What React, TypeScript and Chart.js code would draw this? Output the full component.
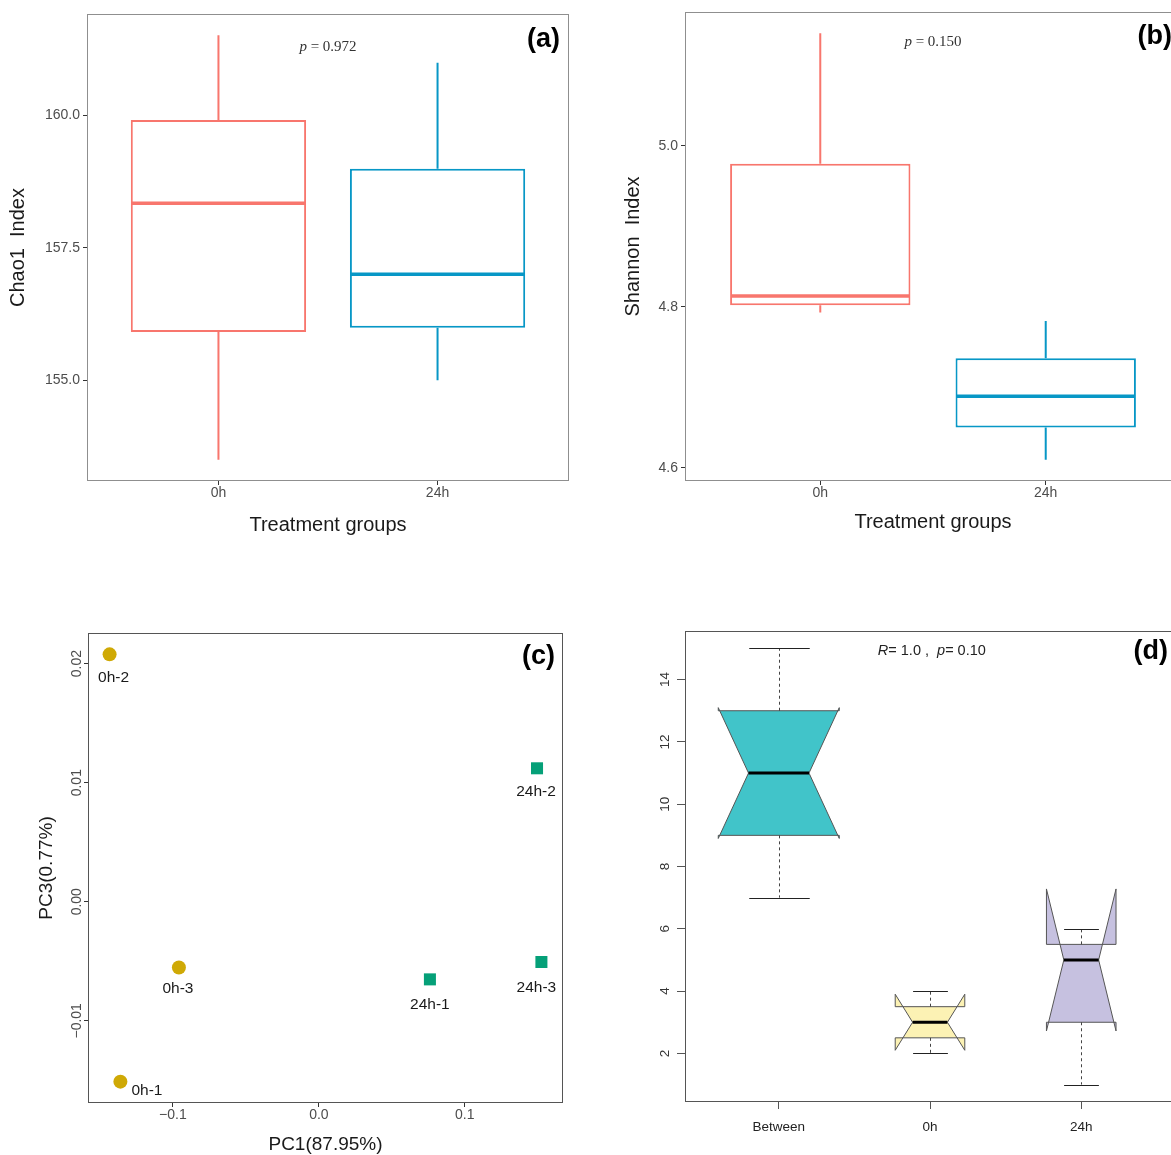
import React, { useEffect, useRef } from "react";
import { Chart, registerables } from "chart.js";

Chart.register(...registerables);

const SANS = "'Liberation Sans', Arial, Helvetica, sans-serif";
const SERIF = "'Liberation Serif', 'Times New Roman', serif";
Chart.defaults.font.family = SANS;

// ---------------- data ----------------
const treatmentGroups = ["0h", "24h"];

// (a) Chao1
const chaoLow = [153.5, 155.0];
const chaoQ1 = [155.91, 155.99];
const chaoMedian = [158.34, 157.0];
const chaoQ3 = [159.91, 158.99];
const chaoHigh = [161.51, 160.99];
const chaoTicks = [155.0, 157.5, 160.0];
const chaoP = "0.972";

// (b) Shannon
const shannonLow = [4.793, 4.61];
const shannonQ1 = [4.802, 4.65];
const shannonMedian = [4.8135, 4.689];
const shannonQ3 = [4.978, 4.736];
const shannonHigh = [5.14, 4.7825];
const shannonTicks = [4.6, 4.8, 5.0];
const shannonP = "0.150";

// (c) PCA
const pcaSamples = ["0h-1", "0h-2", "0h-3", "24h-1", "24h-2", "24h-3"];
const pcaGroup = ["0h", "0h", "0h", "24h", "24h", "24h"];
const pc1 = [-0.136, -0.1434, -0.0959, 0.0761, 0.1495, 0.1525];
const pc3 = [-0.01511, 0.02078, -0.00552, -0.00652, 0.01121, -0.00506];
const pc1Ticks = [-0.1, 0.0, 0.1];
const pc3Ticks = [-0.01, 0.0, 0.01, 0.02];

// (d) ANOSIM
const anosimGroups = ["Between", "0h", "24h"];
const anosimLow = [7, 2, 1];
const anosimQ1 = [9, 2.5, 3];
const anosimMedian = [11, 3, 5];
const anosimQ3 = [13, 3.5, 5.5];
const anosimHigh = [15, 4, 6];
const anosimNotchLow = [8.9, 2.1, 2.72];
const anosimNotchHigh = [13.1, 3.9, 7.28];
const anosimTicks = [2, 4, 6, 8, 10, 12, 14];
const anosimR = "1.0";
const anosimP = "0.10";

// ---------------- styles ----------------
const groupColors = ["#F8766D", "#0797C6"];
const pcaColors: Record<string, string> = { "0h": "#CFA905", "24h": "#05A078" };
const pcaLabelStyle = [
  { dx: 11, dy: 9, align: "left" },
  { dx: 4, dy: 23, align: "center" },
  { dx: -1, dy: 21, align: "center" },
  { dx: 0, dy: 25, align: "center" },
  { dx: -1, dy: 23, align: "center" },
  { dx: -5, dy: 26, align: "center" },
];
const anosimFill = ["#41C4C9", "#FCF2B4", "#C6C1E0"];
const anosimBoxWidth = [0.8, 0.46, 0.46];

const expand = (lo: number[], hi: number[], f: number) => {
  const a = Math.min(...lo);
  const b = Math.max(...hi);
  const r = b - a;
  return [a - f * r, b + f * r];
};
const minus = (s: string) => s.replace("-", "\u2212");

function drawRuns(ctx: CanvasRenderingContext2D, runs: { text: string; font: string }[], x: number, y: number, align: "center" | "left") {
  let total = 0;
  runs.forEach((r) => {
    ctx.font = r.font;
    total += ctx.measureText(r.text).width;
  });
  let cx = align === "center" ? x - total / 2 : x;
  ctx.textAlign = "left";
  ctx.textBaseline = "middle";
  runs.forEach((r) => {
    ctx.font = r.font;
    ctx.fillText(r.text, cx, y);
    cx += ctx.measureText(r.text).width;
  });
}

function decorPlugin(opts: { border: string; tag: string; tagRight: number; tagTop: number; note?: (chart: any) => void }) {
  return {
    id: "decor",
    afterDraw(chart: any) {
      const { ctx, chartArea: a } = chart;
      ctx.save();
      ctx.strokeStyle = opts.border;
      ctx.lineWidth = 1;
      ctx.strokeRect(Math.round(a.left) + 0.5, Math.round(a.top) + 0.5, Math.round(a.right - a.left) - 1, Math.round(a.bottom - a.top) - 1);
      ctx.fillStyle = "#000";
      ctx.font = `bold 27px ${SANS}`;
      ctx.textAlign = "right";
      ctx.textBaseline = "middle";
      ctx.fillText(opts.tag, a.right - opts.tagRight, a.top + opts.tagTop);
      if (opts.note) opts.note(chart);
      ctx.restore();
    },
  };
}

function rotatedYLabels(format: (v: number) => string, offset: number, font: string, color: string) {
  return {
    id: "rotY",
    afterDraw(chart: any) {
      const y = chart.scales.y;
      const ctx = chart.ctx;
      ctx.save();
      ctx.font = font;
      ctx.fillStyle = color;
      ctx.textAlign = "center";
      ctx.textBaseline = "middle";
      y.ticks.forEach((t: any) => {
        const py = y.getPixelForValue(t.value);
        ctx.save();
        ctx.translate(chart.chartArea.left - offset, py);
        ctx.rotate(-Math.PI / 2);
        ctx.fillText(format(t.value), 0, 0);
        ctx.restore();
      });
      ctx.restore();
    },
  };
}

function ggBoxPlugin(low: number[], q1: number[], med: number[], q3: number[], high: number[]) {
  return {
    id: "ggbox",
    afterDatasetsDraw(chart: any) {
      const { ctx, scales } = chart;
      const { x, y } = scales;
      const meta = chart.getDatasetMeta(0);
      ctx.save();
      meta.data.forEach((bar: any, i: number) => {
        const cx = x.getPixelForValue(i + 1);
        const half = bar.width / 2;
        ctx.strokeStyle = groupColors[i];
        ctx.lineWidth = 2;
        ctx.beginPath();
        ctx.moveTo(cx, y.getPixelForValue(q3[i]));
        ctx.lineTo(cx, y.getPixelForValue(high[i]));
        ctx.moveTo(cx, y.getPixelForValue(q1[i]));
        ctx.lineTo(cx, y.getPixelForValue(low[i]));
        ctx.stroke();
        ctx.lineWidth = 3.5;
        ctx.beginPath();
        ctx.moveTo(cx - half + 1, y.getPixelForValue(med[i]));
        ctx.lineTo(cx + half - 1, y.getPixelForValue(med[i]));
        ctx.stroke();
      });
      ctx.restore();
    },
  };
}

function ggBoxConfig(o: {
  low: number[]; q1: number[]; med: number[]; q3: number[]; high: number[];
  ticks: number[]; yTitle: string; yTitlePad: number; xTitlePad: number;
  yAxisW: number; padTop: number; padRight: number; xAxisH: number;
  tag: string; tagTop: number; pText: string; pY: number;
}) {
  const [yMin, yMax] = expand(o.low, o.high, 0.05);
  return {
    type: "bar",
    data: {
      datasets: [
        {
          data: treatmentGroups.map((_, i) => ({ x: i + 1, y: [o.q1[i], o.q3[i]] })),
          backgroundColor: "#ffffff",
          borderColor: groupColors,
          borderWidth: 2,
          borderSkipped: false,
          barPercentage: 0.8,
          categoryPercentage: 1,
        },
      ],
    },
    options: {
      responsive: false,
      animation: false,
      layout: { padding: { top: o.padTop, right: o.padRight, left: 0, bottom: 0 } },
      plugins: { legend: { display: false }, tooltip: { enabled: false } },
      scales: {
        x: {
          type: "linear",
          min: 0.4,
          max: 2.6,
          offset: false,
          afterBuildTicks: (s: any) => { s.ticks = treatmentGroups.map((_, i) => ({ value: i + 1 })); },
          afterFit: (s: any) => { s.height = o.xAxisH; },
          ticks: {
            callback: (v: any) => treatmentGroups[Math.round(v) - 1] ?? "",
            font: { size: 14, family: SANS },
            color: "#4d4d4d",
            padding: 0,
            maxRotation: 0,
            autoSkip: false,
          },
          grid: { display: true, offset: false, drawOnChartArea: false, drawTicks: true, tickLength: 4, tickColor: "#333", lineWidth: 1 },
          border: { display: false },
          title: { display: true, text: "Treatment groups", font: { size: 20, family: SANS }, color: "#1a1a1a", padding: { top: 0, bottom: o.xTitlePad } },
        },
        y: {
          type: "linear",
          min: yMin,
          max: yMax,
          afterBuildTicks: (s: any) => { s.ticks = o.ticks.map((v) => ({ value: v })); },
          afterFit: (s: any) => { s.width = o.yAxisW; },
          ticks: {
            callback: (v: any) => Number(v).toFixed(1),
            font: { size: 14, family: SANS },
            color: "#4d4d4d",
            padding: 3,
          },
          grid: { display: true, drawOnChartArea: false, drawTicks: true, tickLength: 4, tickColor: "#333", lineWidth: 1 },
          border: { display: false },
          title: { display: true, text: o.yTitle, font: { size: 20, family: SANS }, color: "#1a1a1a", padding: { top: o.yTitlePad, bottom: 0 } },
        },
      },
    },
    plugins: [
      ggBoxPlugin(o.low, o.q1, o.med, o.q3, o.high),
      decorPlugin({
        border: "#8f8f8f",
        tag: o.tag,
        tagRight: 9,
        tagTop: o.tagTop,
        note: (chart: any) => {
          const { ctx, scales } = chart;
          ctx.fillStyle = "#333";
          drawRuns(
            ctx,
            [
              { text: "p", font: `italic 15px ${SERIF}` },
              { text: ` = ${o.pText}`, font: `15px ${SERIF}` },
            ],
            scales.x.getPixelForValue(1.5),
            scales.y.getPixelForValue(o.pY),
            "center"
          );
        },
      }),
    ],
  };
}

const makeChao = () =>
  ggBoxConfig({
    low: chaoLow, q1: chaoQ1, med: chaoMedian, q3: chaoQ3, high: chaoHigh,
    ticks: chaoTicks, yTitle: "Chao1  Index", yTitlePad: 6, xTitlePad: 13,
    yAxisW: 87, padTop: 14, padRight: 21, xAxisH: 69,
    tag: "(a)", tagTop: 26, pText: chaoP, pY: 161.29,
  });

const makeShannon = () =>
  ggBoxConfig({
    low: shannonLow, q1: shannonQ1, med: shannonMedian, q3: shannonQ3, high: shannonHigh,
    ticks: shannonTicks, yTitle: "Shannon  Index", yTitlePad: 21, xTitlePad: 16,
    yAxisW: 85, padTop: 12, padRight: 19, xAxisH: 69,
    tag: "(b)", tagTop: 25, pText: shannonP, pY: 5.129,
  });

const makePca = () => {
  const [xMin, xMax] = expand(pc1, pc1, 0.05);
  const [yMin, yMax] = expand(pc3, pc3, 0.05);
  const groups = ["0h", "24h"];
  return {
    type: "scatter",
    data: {
      datasets: groups.map((g) => ({
        label: g,
        data: pcaSamples.map((_, i) => i).filter((i) => pcaGroup[i] === g).map((i) => ({ x: pc1[i], y: pc3[i] })),
        pointStyle: g === "0h" ? "circle" : "rect",
        pointRadius: g === "0h" ? 7 : 8.5,
        backgroundColor: pcaColors[g],
        borderWidth: 0,
      })),
    },
    options: {
      responsive: false,
      animation: false,
      layout: { padding: { top: 33, right: 27, left: 0, bottom: 0 } },
      plugins: { legend: { display: false }, tooltip: { enabled: false } },
      scales: {
        x: {
          type: "linear",
          min: xMin,
          max: xMax,
          afterBuildTicks: (s: any) => { s.ticks = pc1Ticks.map((v) => ({ value: v })); },
          afterFit: (s: any) => { s.height = 72; },
          ticks: {
            callback: (v: any) => minus(Number(v).toFixed(1)),
            font: { size: 14, family: SANS },
            color: "#4d4d4d",
            padding: 0,
            maxRotation: 0,
            autoSkip: false,
          },
          grid: { display: true, drawOnChartArea: false, drawTicks: true, tickLength: 4, tickColor: "#333" },
          border: { display: false },
          title: { display: true, text: "PC1(87.95%)", font: { size: 19, family: SANS }, color: "#1a1a1a", padding: { top: 0, bottom: 18.6 } },
        },
        y: {
          type: "linear",
          min: yMin,
          max: yMax,
          afterBuildTicks: (s: any) => { s.ticks = pc3Ticks.map((v) => ({ value: v })); },
          afterFit: (s: any) => { s.width = 88; },
          ticks: { display: false },
          grid: { display: true, drawOnChartArea: false, drawTicks: true, tickLength: 4, tickColor: "#333" },
          border: { display: false },
          title: { display: true, text: "PC3(0.77%)", font: { size: 19, family: SANS }, color: "#1a1a1a", padding: { top: 35.6, bottom: 0 } },
        },
      },
    },
    plugins: [
      rotatedYLabels((v) => minus(v.toFixed(2)), 11, `14px ${SANS}`, "#4d4d4d"),
      {
        id: "pcaLabels",
        afterDatasetsDraw(chart: any) {
          const { ctx, scales } = chart;
          ctx.save();
          ctx.font = `15.5px ${SANS}`;
          ctx.fillStyle = "#1a1a1a";
          ctx.textBaseline = "middle";
          pcaSamples.forEach((s, i) => {
            const st = pcaLabelStyle[i];
            ctx.textAlign = st.align as CanvasTextAlign;
            ctx.fillText(s, scales.x.getPixelForValue(pc1[i]) + st.dx, scales.y.getPixelForValue(pc3[i]) + st.dy);
          });
          ctx.restore();
        },
      },
      decorPlugin({ border: "#555", tag: "(c)", tagRight: 8, tagTop: 24 }),
    ],
  };
};

const makeAnosim = () => {
  const [yMin, yMax] = expand(anosimLow, anosimHigh, 0.04);
  const halfPx = (chart: any, i: number) =>
    chart.scales.x.getPixelForValue(i + 1 + anosimBoxWidth[i] / 2) - chart.scales.x.getPixelForValue(i + 1);
  return {
    type: "scatter",
    data: {
      datasets: [
        {
          data: anosimMedian.map((m, i) => ({ x: i + 1, y: m })),
          pointStyle: "line",
          pointRadius: (c: any) => halfPx(c.chart, c.dataIndex) / 2,
          borderColor: "#000",
          borderWidth: 3,
          backgroundColor: "#000",
        },
      ],
    },
    options: {
      responsive: false,
      animation: false,
      layout: { padding: { top: 31, right: 25, left: 0, bottom: 0 } },
      plugins: { legend: { display: false }, tooltip: { enabled: false } },
      scales: {
        x: {
          type: "linear",
          min: 0.38,
          max: 3.62,
          afterBuildTicks: (s: any) => { s.ticks = anosimGroups.map((_, i) => ({ value: i + 1 })); },
          afterFit: (s: any) => { s.height = 73; },
          ticks: {
            callback: (v: any) => anosimGroups[Math.round(v) - 1] ?? "",
            font: { size: 13.5, family: SANS },
            color: "#222",
            padding: 10,
            maxRotation: 0,
            autoSkip: false,
          },
          grid: { display: true, drawOnChartArea: false, drawTicks: true, tickLength: 7, tickColor: "#555" },
          border: { display: false },
        },
        y: {
          type: "linear",
          min: yMin,
          max: yMax,
          afterBuildTicks: (s: any) => { s.ticks = anosimTicks.map((v) => ({ value: v })); },
          afterFit: (s: any) => { s.width = 85; },
          ticks: { display: false },
          grid: { display: true, drawOnChartArea: false, drawTicks: true, tickLength: 8, tickColor: "#555" },
          border: { display: false },
        },
      },
    },
    plugins: [
      {
        id: "notchBoxes",
        beforeDatasetsDraw(chart: any) {
          const { ctx, scales } = chart;
          const Y = (v: number) => scales.y.getPixelForValue(v);
          ctx.save();
          anosimGroups.forEach((_, i) => {
            const cx = scales.x.getPixelForValue(i + 1);
            const w = halfPx(chart, i);
            ctx.beginPath();
            ctx.moveTo(cx - w, Y(anosimQ1[i]));
            ctx.lineTo(cx - w, Y(anosimNotchLow[i]));
            ctx.lineTo(cx - w / 2, Y(anosimMedian[i]));
            ctx.lineTo(cx - w, Y(anosimNotchHigh[i]));
            ctx.lineTo(cx - w, Y(anosimQ3[i]));
            ctx.lineTo(cx + w, Y(anosimQ3[i]));
            ctx.lineTo(cx + w, Y(anosimNotchHigh[i]));
            ctx.lineTo(cx + w / 2, Y(anosimMedian[i]));
            ctx.lineTo(cx + w, Y(anosimNotchLow[i]));
            ctx.lineTo(cx + w, Y(anosimQ1[i]));
            ctx.closePath();
            ctx.fillStyle = anosimFill[i];
            ctx.fill();
            ctx.strokeStyle = "#555";
            ctx.lineWidth = 1;
            ctx.stroke();
          });
          ctx.restore();
        },
        afterDatasetsDraw(chart: any) {
          const { ctx, scales } = chart;
          const Y = (v: number) => scales.y.getPixelForValue(v);
          ctx.save();
          anosimGroups.forEach((_, i) => {
            const cx = Math.round(scales.x.getPixelForValue(i + 1)) + 0.5;
            const w = halfPx(chart, i);
            ctx.strokeStyle = "#444";
            ctx.lineWidth = 1;
            ctx.setLineDash([3, 3]);
            ctx.beginPath();
            ctx.moveTo(cx, Y(anosimQ3[i]));
            ctx.lineTo(cx, Y(anosimHigh[i]));
            ctx.moveTo(cx, Y(anosimQ1[i]));
            ctx.lineTo(cx, Y(anosimLow[i]));
            ctx.stroke();
            ctx.setLineDash([]);
            ctx.strokeStyle = "#222";
            ctx.beginPath();
            ctx.moveTo(cx - w / 2, Math.round(Y(anosimHigh[i])) + 0.5);
            ctx.lineTo(cx + w / 2, Math.round(Y(anosimHigh[i])) + 0.5);
            ctx.moveTo(cx - w / 2, Math.round(Y(anosimLow[i])) + 0.5);
            ctx.lineTo(cx + w / 2, Math.round(Y(anosimLow[i])) + 0.5);
            ctx.stroke();
          });
          ctx.restore();
        },
      },
      rotatedYLabels((v) => String(v), 20, `13.5px ${SANS}`, "#333"),
      decorPlugin({
        border: "#555",
        tag: "(d)",
        tagRight: 7,
        tagTop: 21,
        note: (chart: any) => {
          const { ctx, scales } = chart;
          ctx.fillStyle = "#222";
          drawRuns(
            ctx,
            [
              { text: "R", font: `italic 14.5px ${SANS}` },
              { text: `= ${anosimR} ,  `, font: `14.5px ${SANS}` },
              { text: "p", font: `italic 14.5px ${SANS}` },
              { text: `= ${anosimP}`, font: `14.5px ${SANS}` },
            ],
            scales.x.getPixelForValue(1.655),
            scales.y.getPixelForValue(14.92),
            "left"
          );
        },
      }),
    ],
  };
};

function ChartPanel({ left, top, width, height, make }: { left: number; top: number; width: number; height: number; make: () => any }) {
  const ref = useRef<HTMLCanvasElement>(null);
  useEffect(() => {
    const chart = new Chart(ref.current as HTMLCanvasElement, make());
    return () => chart.destroy();
  }, []);
  return <canvas ref={ref} width={width} height={height} style={{ position: "absolute", left, top, width, height }} />;
}

export default function App() {
  return (
    <div style={{ position: "fixed", left: 0, top: 0, width: 1171, height: 1155, overflow: "hidden", background: "#fff" }}>
      <ChartPanel left={0} top={0} width={590} height={550} make={makeChao} />
      <ChartPanel left={600} top={0} width={600} height={550} make={makeShannon} />
      <ChartPanel left={0} top={600} width={590} height={575} make={makePca} />
      <ChartPanel left={600} top={600} width={600} height={575} make={makeAnosim} />
    </div>
  );
}
